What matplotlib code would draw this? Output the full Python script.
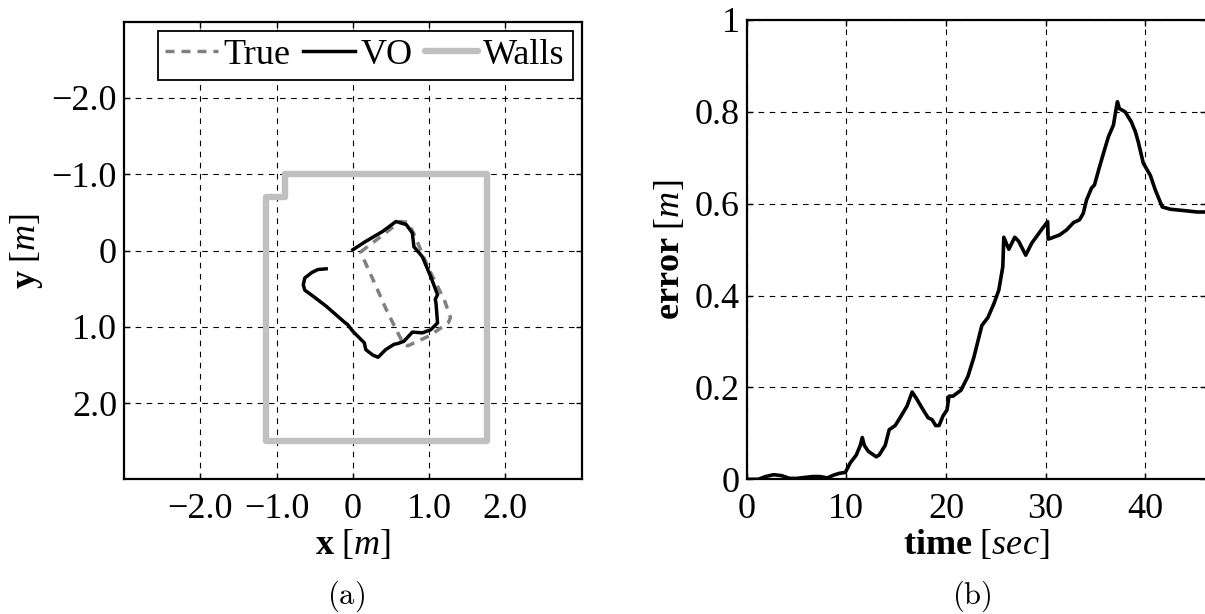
import matplotlib
matplotlib.use("Agg")
import matplotlib.pyplot as plt

# ---------------- data ----------------
# (a) trajectories, metres (y axis is flipped in the plot)
vo_x = [0.0, 0.17, 0.39, 0.565, 0.70, 0.78, 0.80, 0.91, 1.02, 1.11, 1.08, 1.09, 1.11,
        1.02, 0.91, 0.78, 0.67, 0.59, 0.54, 0.43, 0.33, 0.26, 0.17, 0.15, 0.09, 0.0,
        -0.07, -0.11, -0.35, -0.52, -0.63, -0.65, -0.63, -0.54, -0.46, -0.35]
vo_y = [-0.01, -0.12, -0.25, -0.38, -0.34, -0.23, -0.05, 0.08, 0.34, 0.58, 0.64, 0.69, 0.95,
        1.04, 1.08, 1.07, 1.19, 1.22, 1.23, 1.30, 1.40, 1.37, 1.30, 1.21, 1.15, 1.06,
        0.97, 0.94, 0.73, 0.60, 0.52, 0.45, 0.36, 0.29, 0.25, 0.24]

true_x = [0.10, 0.35, 0.62, 0.72, 0.80, 1.00, 1.20, 1.28, 1.25, 1.00, 0.72, 0.66, 0.45, 0.25, 0.10]
true_y = [0.02, -0.17, -0.38, -0.37, -0.22, 0.25, 0.65, 0.88, 0.95, 1.12, 1.25, 1.22, 0.80, 0.35, 0.02]

walls_x = [-0.89, 1.76, 1.76, -1.14, -1.14, -0.89, -0.89]
walls_y = [-1.0, -1.0, 2.50, 2.50, -0.70, -0.70, -1.0]

xy_ticks = [-2, -1, 0, 1, 2]
xy_labels = ["\u22122.0", "\u22121.0", "0", "1.0", "2.0"]

# (b) error over time
t = [0, 1.16, 1.9, 2.7, 3.5, 4.3, 5.0, 5.8, 6.6, 7.35, 8.1, 8.7, 9.3, 9.9, 10.4, 11.0,
     11.4, 11.6, 11.8, 12.2, 13.0, 13.3, 13.9, 14.3, 14.9, 15.5, 16.1, 16.6, 17.0, 17.6,
     18.2, 18.6, 18.96, 19.3, 19.7, 20.1, 20.3, 20.7, 21.5, 22.2, 22.8, 23.6, 24.2, 24.8,
     25.3, 25.7, 25.8, 26.3, 26.9, 27.3, 28.0, 28.6, 29.6, 30.2, 30.25, 30.42, 31.4, 32.1,
     32.8, 33.4, 33.77, 34.1, 34.6, 34.9, 35.4, 35.9, 36.3, 36.8, 37.05, 37.2, 37.4, 37.98,
     38.6, 39.0, 39.3, 39.8, 40.5, 41.0, 41.7, 42.5, 43.9, 45.2, 46.2]
err = [0, 0, .006, .010, .008, .002, .002, .004, .006, .006, .003, .009, .013, .015, .036,
       .053, .074, .091, .074, .061, .049, .053, .074, .108, .117, .138, .160, .190, .177,
       .155, .134, .130, .117, .117, .138, .151, .181, .181, .194, .224, .266, .335, .352,
       .382, .412, .463, .527, .501, .527, .518, .488, .514, .544, .561, .523, .524, .532,
       .543, .559, .565, .579, .608, .634, .641, .680, .717, .746, .771, .804, .822, .807,
       .800, .778, .757, .734, .688, .662, .630, .593, .588, .585, .582, .582]

t_ticks = [0, 10, 20, 30, 40]
err_ticks = [0, 0.2, 0.4, 0.6, 0.8, 1.0]
err_labels = ["0", "0.2", "0.4", "0.6", "0.8", "1"]

# ---------------- style ----------------
plt.rcParams["font.family"] = ["Liberation Serif", "DejaVu Serif"]
plt.rcParams["font.size"] = 26
plt.rcParams["mathtext.fontset"] = "custom"
plt.rcParams["mathtext.rm"] = "Liberation Serif"
plt.rcParams["mathtext.it"] = "Liberation Serif:italic"
plt.rcParams["mathtext.bf"] = "Liberation Serif:bold"

fig = plt.figure(figsize=(12.05, 6.14), dpi=100)
W, H = 1205.0, 614.0
ax1 = fig.add_axes([124 / W, (H - 479.3) / H, 457.7 / W, 457.6 / H])
ax2 = fig.add_axes([746.7 / W, (H - 479.3) / H, 459.4 / W, 459.3 / H])


def style_axes(ax):
    ax.grid(True, color="black", linestyle=(0, (5, 5)), linewidth=0.8)
    ax.set_axisbelow(True)
    for s in ax.spines.values():
        s.set_linewidth(1.6)
    ax.tick_params(direction="in", top=True, right=True, length=4, width=1.0,
                   labelsize=26)
    ax.tick_params(axis="x", pad=10)
    ax.tick_params(axis="y", pad=5)


# ---------------- (a) ----------------
wl, = ax1.plot(walls_x, walls_y, color="#c0c0c0", linewidth=4.6,
               solid_joinstyle="round", solid_capstyle="round", label="Walls")
tl, = ax1.plot(true_x, true_y, color="#808080", linewidth=2.5,
               linestyle=(0, (2.6, 2.0)), label="True")
vl, = ax1.plot(vo_x, vo_y, color="black", linewidth=2.5,
               solid_joinstyle="round", label="VO")
ax1.set_xlim(-3, 3)
ax1.set_ylim(3, -3)
ax1.set_xticks(xy_ticks, xy_labels)
ax1.set_yticks(xy_ticks, xy_labels)
style_axes(ax1)
ax1.set_xlabel(r"$\mathbf{x}\ [m]$", fontsize=26, va="center")
ax1.set_ylabel(r"$\mathbf{y}\ [m]$", fontsize=26, va="center")
ax1.xaxis.set_label_coords(0.5, -0.143)
ax1.yaxis.set_label_coords(-0.214, 0.5)
leg = ax1.legend(handles=[tl, vl, wl], loc="upper right", ncol=3, fontsize=26,
                 handlelength=1.45, handletextpad=0.15, columnspacing=0.35,
                 borderpad=0.22, borderaxespad=0.25, fancybox=False,
                 framealpha=1, edgecolor="black")
leg.get_frame().set_linewidth(1.3)

# ---------------- (b) ----------------
ax2.plot(t, err, color="black", linewidth=2.6, solid_joinstyle="round")
ax2.set_xlim(0, 46.1)
ax2.set_ylim(0, 1)
ax2.set_xticks(t_ticks, [str(v) for v in t_ticks])
ax2.set_yticks(err_ticks, err_labels)
style_axes(ax2)
ax2.set_xlabel(r"$\mathbf{time}\ [sec]$", fontsize=26, va="center")
ax2.set_ylabel(r"$\mathbf{error}\ [m]$", fontsize=26, va="center")
ax2.xaxis.set_label_coords(0.5, -0.143)
ax2.yaxis.set_label_coords(-0.166, 0.5)

# captions
fig.text(346 / W, 1 - 596 / H, r"$\mathrm{(a)}$", math_fontfamily="cm",
         fontsize=22, ha="center", va="center")
fig.text(971.7 / W, 1 - 596 / H, r"$\mathrm{(b)}$", math_fontfamily="cm",
         fontsize=22, ha="center", va="center")

fig.savefig("out.png", dpi=100)
